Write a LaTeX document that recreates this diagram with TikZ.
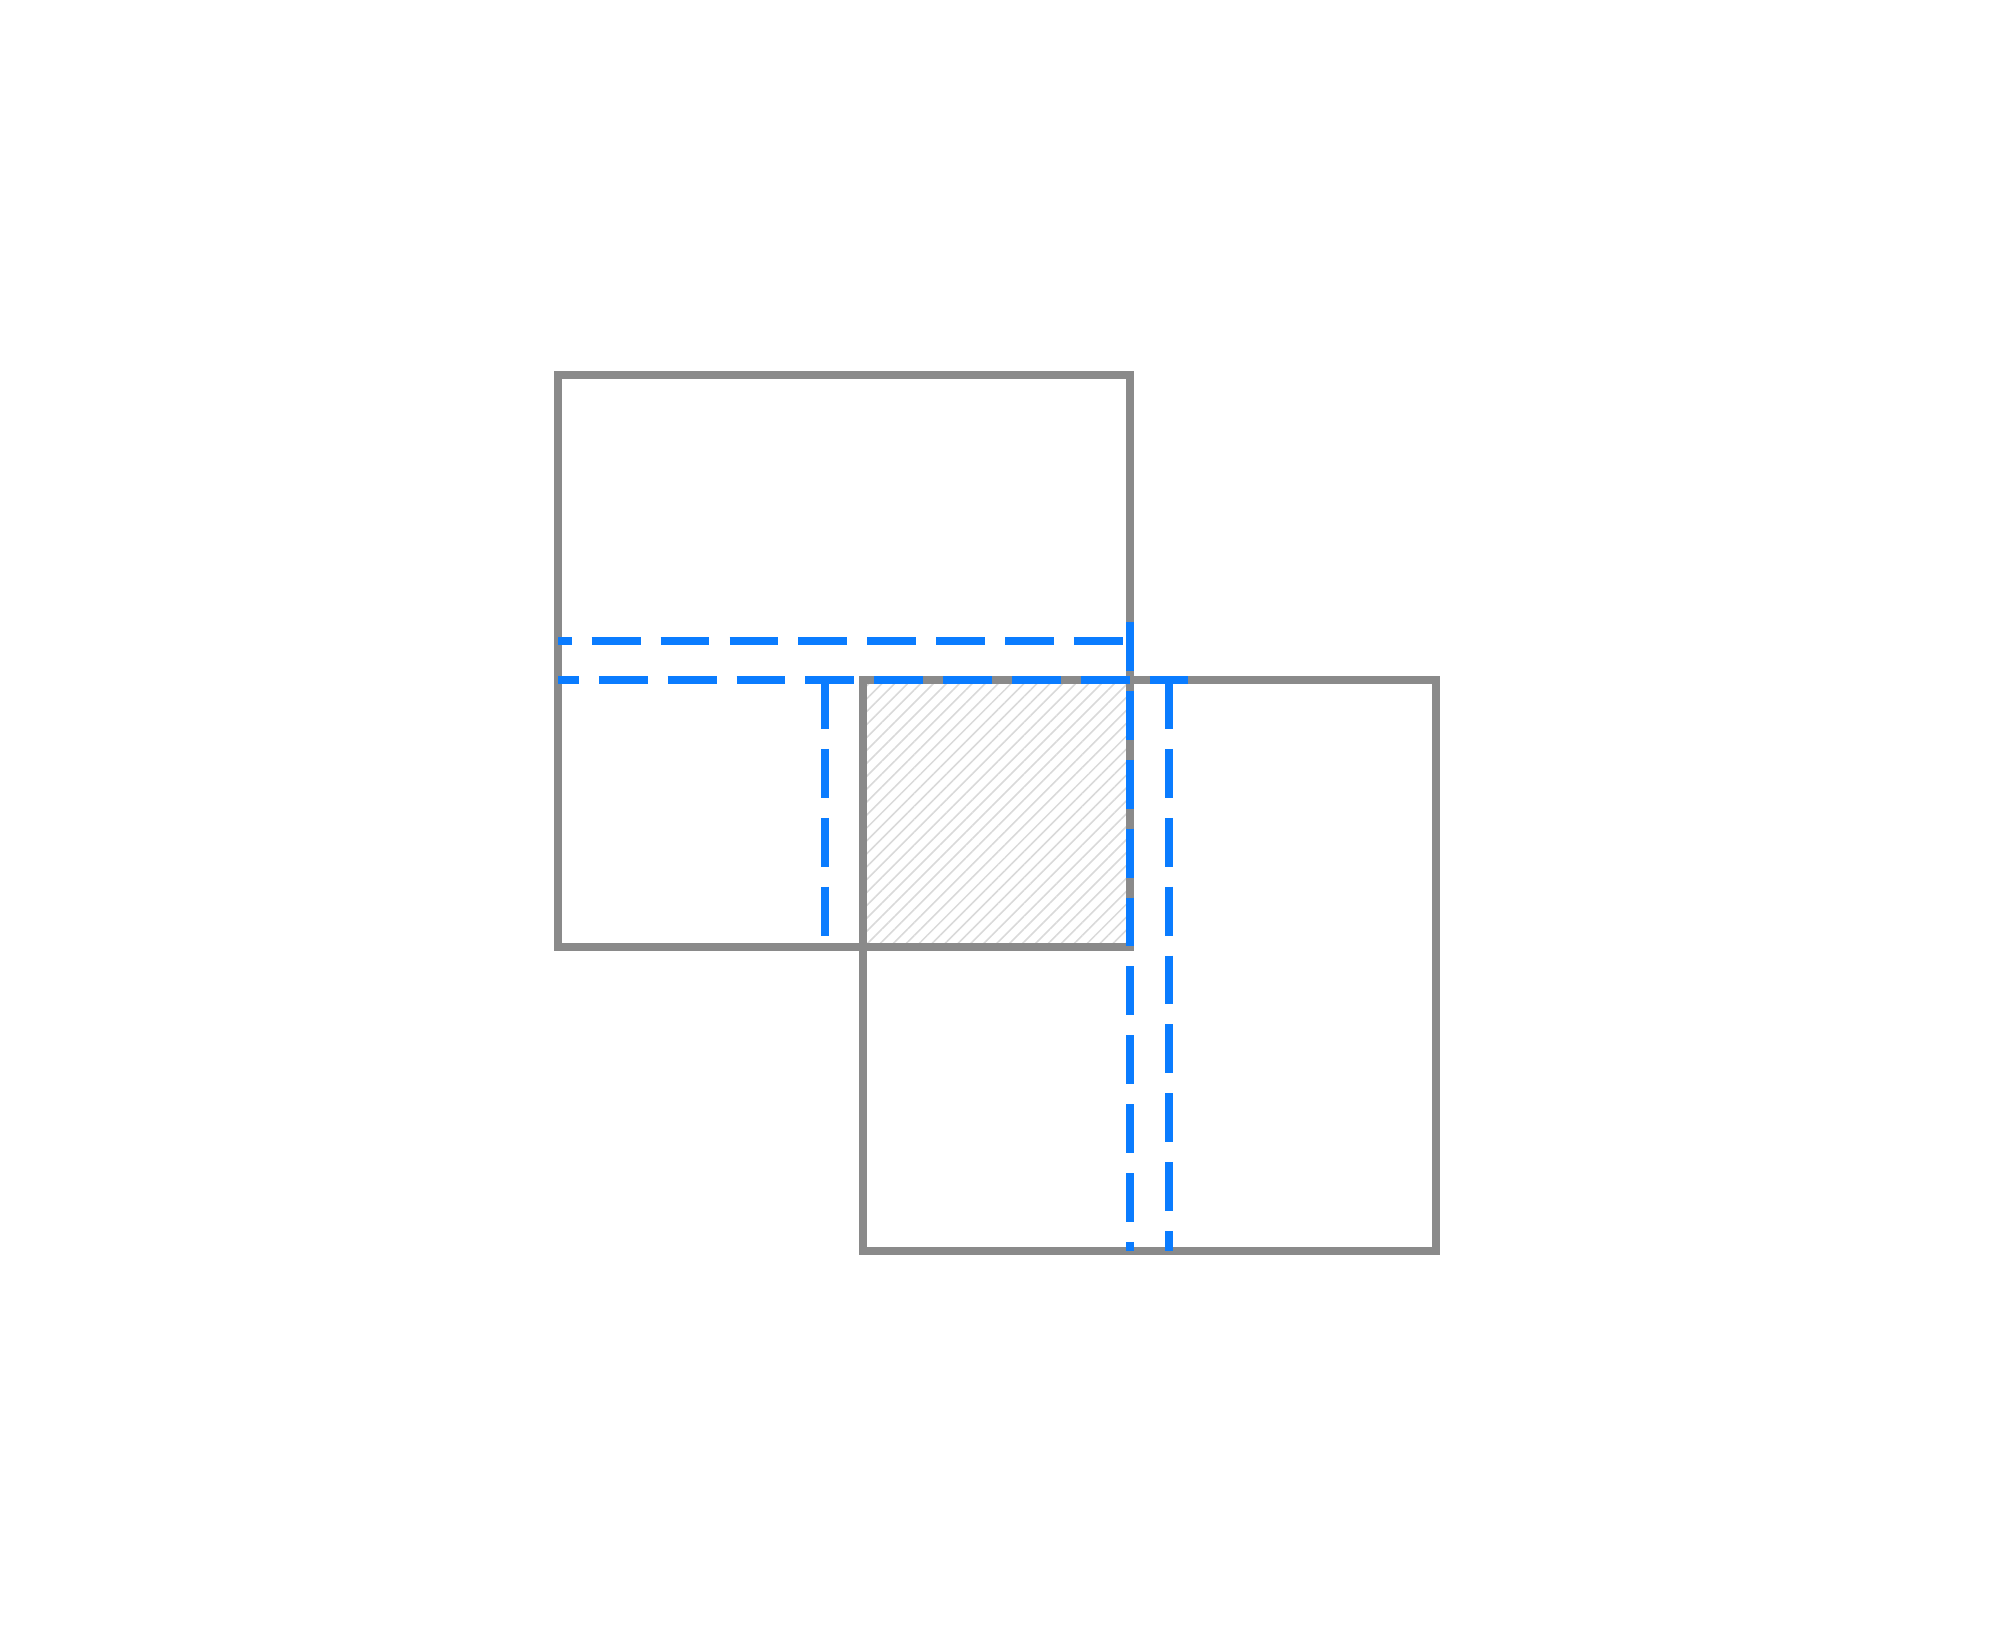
\documentclass[tikz,border=0pt]{standalone}
\usetikzlibrary{patterns.meta}
\definecolor{framegray}{HTML}{8A8A8A}
\definecolor{cutblue}{HTML}{0A7CFF}
\tikzset{
  frame/.style={draw=framegray, line width=2.2pt},
  cutline/.style={draw=cutblue, line width=2.5pt, dash pattern=on 13.9pt off 5.7pt},
}
\begin{document}
\begin{tikzpicture}
                    \useasboundingbox (0,0) rectangle (20,16.3);

                    % overlap of the two squares
                    \pattern[pattern={Lines[angle=45,distance=2.6pt,line width=0.45pt]}, pattern color=black!15]
                        (8.63,6.83) rectangle (11.30,9.50);

                    \draw[frame] (5.58,6.83) rectangle (11.30,12.55);
                    \draw[frame] (8.63,3.79) rectangle (14.36,9.50);

                    \draw[cutline, dash phase=10pt] (5.58,9.89)--(11.30,9.89);
                    \draw[cutline] (11.30,10.08)--(11.30,3.79);
                    \draw[cutline, dash phase=8pt] (5.58,9.50)--(11.88,9.50);
                    \draw[cutline] (8.25,9.50)--(8.25,6.83);
                    \draw[cutline] (11.69,9.50)--(11.69,3.79);

                  \end{tikzpicture}
\end{document}
